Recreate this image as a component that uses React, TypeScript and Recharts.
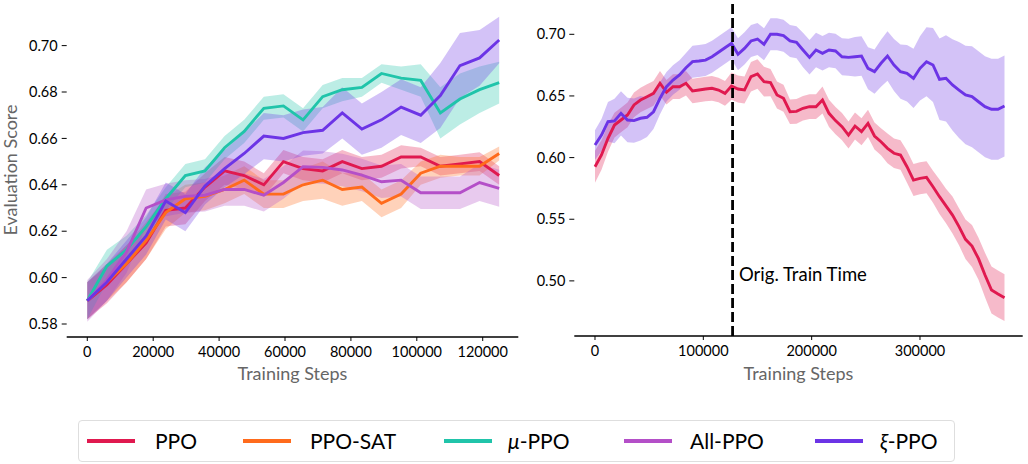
import React from "react";
import { Area, ComposedChart, Line, ReferenceLine, XAxis, YAxis } from "recharts";

const FONT = "Lato, 'Open Sans', sans-serif";

// ---- left panel: 0 .. 125k steps ----
const leftSteps = [
  0, 5952, 11905, 17857, 23810, 29762, 35714, 41667, 47619, 53571, 59524,
  65476, 71429, 77381, 83333, 89286, 95238, 101190, 107143, 113095, 119048, 125000,
];

const ppoLeft = [
  0.59, 0.597, 0.606, 0.615, 0.629, 0.63, 0.639, 0.646, 0.644, 0.64, 0.65,
  0.647, 0.646, 0.65, 0.647, 0.648, 0.652, 0.652, 0.648, 0.649, 0.65, 0.644,
];
const ppoLeftSpread = [
  0.008, 0.008, 0.008, 0.007, 0.007, 0.007, 0.006, 0.006, 0.006, 0.005, 0.005,
  0.005, 0.005, 0.005, 0.005, 0.005, 0.005, 0.004, 0.004, 0.004, 0.004, 0.004,
];

const satLeft = [
  0.59, 0.598, 0.606, 0.616, 0.628, 0.634, 0.635, 0.638, 0.642, 0.636, 0.636,
  0.64, 0.642, 0.638, 0.639, 0.632, 0.636, 0.645, 0.648, 0.648, 0.648, 0.6535,
];
const satLeftSpread = [
  0.008, 0.008, 0.008, 0.008, 0.007, 0.006, 0.006, 0.006, 0.006, 0.006, 0.006,
  0.007, 0.008, 0.007, 0.006, 0.006, 0.006, 0.005, 0.005, 0.004, 0.004, 0.003,
];

const muLeft = [
  0.59, 0.605, 0.612, 0.622, 0.634, 0.644, 0.646, 0.656, 0.663, 0.673, 0.674,
  0.668, 0.678, 0.681, 0.682, 0.688, 0.686, 0.685, 0.671, 0.677, 0.681, 0.684,
];
const muLeftSpread = [
  0.008, 0.007, 0.006, 0.005, 0.005, 0.005, 0.005, 0.005, 0.005, 0.005, 0.005,
  0.005, 0.005, 0.005, 0.004, 0.004, 0.005, 0.007, 0.011, 0.011, 0.01, 0.009,
];

const allLeft = [
  0.59, 0.599, 0.611, 0.63, 0.6335, 0.635, 0.6355, 0.638, 0.638, 0.6355, 0.641,
  0.6478, 0.6475, 0.6464, 0.6442, 0.6413, 0.642, 0.6366, 0.6366, 0.6366, 0.641, 0.6385,
];
const allLeftSpread = [
  0.009, 0.009, 0.009, 0.008, 0.007, 0.007, 0.007, 0.007, 0.007, 0.007, 0.007,
  0.007, 0.007, 0.007, 0.007, 0.007, 0.007, 0.007, 0.007, 0.007, 0.008, 0.008,
];

const xiLeft = [
  0.59, 0.598, 0.608, 0.618, 0.633, 0.628, 0.6395, 0.647, 0.6535, 0.661, 0.66,
  0.6625, 0.6635, 0.671, 0.664, 0.668, 0.6735, 0.67, 0.6785, 0.6914, 0.6947, 0.7024,
];
const xiLeftSpread = [
  0.008, 0.008, 0.008, 0.008, 0.008, 0.008, 0.008, 0.008, 0.009, 0.01, 0.01,
  0.01, 0.01, 0.011, 0.011, 0.012, 0.012, 0.012, 0.014, 0.014, 0.012, 0.01,
];

// ---- right panel: long run, 0 .. 378k steps ----
const rightSteps = [
  0, 6000, 12000, 18000, 24000, 30000, 36000, 42000, 48000, 54000,
  60000, 66000, 72000, 78000, 84000, 90000, 96000, 102000, 108000, 114000,
  120000, 126000, 132000, 138000, 144000, 150000, 156000, 162000, 168000, 174000,
  180000, 186000, 192000, 198000, 204000, 210000, 216000, 222000, 228000, 234000,
  240000, 246000, 252000, 258000, 264000, 270000, 276000, 282000, 288000, 294000,
  300000, 306000, 312000, 318000, 324000, 330000, 336000, 342000, 348000, 354000,
  360000, 366000, 372000, 378000,
];

const ppoRight = [
  0.5926, 0.6021, 0.6157, 0.6264, 0.6305, 0.6346, 0.6427, 0.6467, 0.6494, 0.6521,
  0.6603, 0.653, 0.6575, 0.6575, 0.6603, 0.654, 0.6548, 0.6556, 0.6562, 0.6548,
  0.6521, 0.658, 0.6556, 0.6548, 0.6656, 0.6678, 0.6616, 0.6608, 0.6508, 0.6481,
  0.6372, 0.6375, 0.64, 0.6413, 0.6413, 0.6467, 0.6359, 0.63, 0.6251, 0.6183,
  0.6256, 0.621, 0.6278, 0.6175, 0.6129, 0.6075, 0.6035, 0.6021, 0.5926, 0.5818,
  0.5832, 0.584, 0.5764, 0.5683, 0.5608, 0.5534, 0.544, 0.5337, 0.5283, 0.518,
  0.5048, 0.4926, 0.4894, 0.4864,
];
const ppoRightSpread = [
  0.013, 0.012, 0.011, 0.01, 0.01, 0.01, 0.01, 0.01, 0.01, 0.01,
  0.01, 0.01, 0.01, 0.01, 0.01, 0.01, 0.01, 0.01, 0.01, 0.01,
  0.01, 0.011, 0.011, 0.011, 0.012, 0.012, 0.012, 0.011, 0.011, 0.011,
  0.01, 0.01, 0.01, 0.01, 0.01, 0.011, 0.011, 0.011, 0.011, 0.011,
  0.011, 0.011, 0.011, 0.011, 0.011, 0.012, 0.012, 0.012, 0.013, 0.013,
  0.013, 0.013, 0.013, 0.014, 0.014, 0.015, 0.015, 0.016, 0.017, 0.017,
  0.018, 0.019, 0.019, 0.019,
];

const xiRight = [
  0.6102, 0.6183, 0.6291, 0.6297, 0.6359, 0.6305, 0.63, 0.6319, 0.6327, 0.6372,
  0.6481, 0.6575, 0.6629, 0.667, 0.6729, 0.6778, 0.6783, 0.6791, 0.6818, 0.6854,
  0.6891, 0.6927, 0.6838, 0.6886, 0.6946, 0.6962, 0.6919, 0.7, 0.7, 0.6989,
  0.6946, 0.6935, 0.6873, 0.6813, 0.6873, 0.6846, 0.6873, 0.6865, 0.6818, 0.6813,
  0.6818, 0.6824, 0.6724, 0.6697, 0.6765, 0.6824, 0.6751, 0.6697, 0.6684, 0.6643,
  0.6724, 0.6778, 0.6751, 0.6635, 0.6643, 0.6589, 0.6548, 0.6508, 0.6494, 0.6453,
  0.6413, 0.6392, 0.6392, 0.6418,
];
const xiRightSpread = [
  0.012, 0.013, 0.016, 0.018, 0.018, 0.018, 0.018, 0.018, 0.016, 0.014,
  0.013, 0.012, 0.012, 0.012, 0.012, 0.013, 0.013, 0.013, 0.013, 0.013,
  0.013, 0.013, 0.013, 0.013, 0.013, 0.013, 0.013, 0.013, 0.013, 0.013,
  0.013, 0.013, 0.014, 0.014, 0.014, 0.014, 0.014, 0.014, 0.015, 0.015,
  0.016, 0.016, 0.017, 0.018, 0.019, 0.02, 0.021, 0.022, 0.023, 0.024,
  0.026, 0.028, 0.03, 0.033, 0.035, 0.037, 0.039, 0.04, 0.041, 0.041,
  0.041, 0.041, 0.041, 0.041,
];

const leftXTicks = [0, 20000, 40000, 60000, 80000, 100000, 120000];
const leftYTicks = [0.58, 0.6, 0.62, 0.64, 0.66, 0.68, 0.7];
const rightXTicks = [0, 100000, 200000, 300000];
const rightYTicks = [0.5, 0.55, 0.6, 0.65, 0.7];
const origTrainStep = 127000;

const COLORS = {
  ppo: "#e0194f",
  sat: "#ff6b1c",
  mu: "#20c4aa",
  all: "#b44fc8",
  xi: "#6c34e6",
};

type Series = { key: string; color: string; mean: number[]; spread: number[] };

const leftSeries: Series[] = [
  { key: "ppo", color: COLORS.ppo, mean: ppoLeft, spread: ppoLeftSpread },
  { key: "sat", color: COLORS.sat, mean: satLeft, spread: satLeftSpread },
  { key: "mu", color: COLORS.mu, mean: muLeft, spread: muLeftSpread },
  { key: "all", color: COLORS.all, mean: allLeft, spread: allLeftSpread },
  { key: "xi", color: COLORS.xi, mean: xiLeft, spread: xiLeftSpread },
];

const rightSeries: Series[] = [
  { key: "ppo", color: COLORS.ppo, mean: ppoRight, spread: ppoRightSpread },
  { key: "xi", color: COLORS.xi, mean: xiRight, spread: xiRightSpread },
];

const buildRows = (steps: number[], series: Series[]) =>
  steps.map((step, i) => {
    const row: Record<string, any> = { step };
    series.forEach((s) => {
      row[s.key] = s.mean[i];
      row[s.key + "Band"] = [s.mean[i] - s.spread[i], s.mean[i] + s.spread[i]];
    });
    return row;
  });

const leftData = buildRows(leftSteps, leftSeries);
const rightData = buildRows(rightSteps, rightSeries);

const legendItems = [
  { label: <>PPO</>, color: COLORS.ppo, swatch: 87, text: 155 },
  { label: <>PPO-SAT</>, color: COLORS.sat, swatch: 243, text: 310 },
  { label: <><i>μ</i>-PPO</>, color: COLORS.mu, swatch: 444, text: 508 },
  { label: <>All-PPO</>, color: COLORS.all, swatch: 624, text: 690 },
  { label: <><i>ξ</i>-PPO</>, color: COLORS.xi, swatch: 815, text: 880 },
];

const renderSeries = (series: Series[]) =>
  series.flatMap((s) => [
    <Area
      key={s.key + "-band"}
      type="linear"
      dataKey={s.key + "Band"}
      stroke="none"
      fill={s.color}
      fillOpacity={0.3}
      isAnimationActive={false}
    />,
    <Line
      key={s.key + "-line"}
      type="linear"
      dataKey={s.key}
      stroke={s.color}
      strokeWidth={2.9}
      dot={false}
      isAnimationActive={false}
    />,
  ]);

const tickStyle = { fill: "#000", fontSize: 14.5 };
const fmt = (v: number) => v.toFixed(2);

const App = () => {
  return (
    <div
      style={{
        position: "absolute",
        left: 0,
        top: 0,
        width: 1028,
        height: 464,
        background: "#fff",
        fontFamily: FONT,
      }}
    >
      <div style={{ position: "absolute", left: 0, top: 0 }}>
        <ComposedChart
          width={530}
          height={400}
          data={leftData}
          margin={{ top: 2, right: 11.7, bottom: 13, left: 0 }}
        >
          <XAxis
            dataKey="step"
            type="number"
            domain={[-6250, 130800]}
            ticks={leftXTicks}
            allowDataOverflow
            height={50}
            axisLine={{ stroke: "#000", strokeWidth: 1.3 }}
            tickLine={{ stroke: "#000" }}
            tickSize={4}
            tickMargin={6}
            tick={tickStyle}
          />
          <YAxis
            type="number"
            domain={[0.5744, 0.7188]}
            ticks={leftYTicks}
            allowDataOverflow
            width={66.7}
            axisLine={false}
            tickLine={{ stroke: "#000" }}
            tickSize={5}
            tickMargin={4}
            tick={tickStyle}
            tickFormatter={fmt}
          />
          {renderSeries(leftSeries)}
        </ComposedChart>
      </div>

      <div style={{ position: "absolute", left: 530, top: 0 }}>
        <ComposedChart
          width={498}
          height={400}
          data={rightData}
          margin={{ top: 2, right: 5.3, bottom: 14, left: 0 }}
        >
          <XAxis
            dataKey="step"
            type="number"
            domain={[-19100, 394800]}
            ticks={rightXTicks}
            allowDataOverflow
            height={50}
            axisLine={{ stroke: "#000", strokeWidth: 1.3 }}
            tickLine={{ stroke: "#000" }}
            tickSize={4}
            tickMargin={6}
            tick={tickStyle}
          />
          <YAxis
            type="number"
            domain={[0.4553, 0.7262]}
            ticks={rightYTicks}
            allowDataOverflow
            width={44.3}
            axisLine={false}
            tickLine={{ stroke: "#000" }}
            tickSize={5}
            tickMargin={4}
            tick={tickStyle}
            tickFormatter={fmt}
          />
          {renderSeries(rightSeries)}
          <ReferenceLine
            x={origTrainStep}
            stroke="#000"
            strokeWidth={2.8}
            strokeDasharray="10 4"
          />
        </ComposedChart>
      </div>

      <svg
        width={1028}
        height={464}
        style={{ position: "absolute", left: 0, top: 0, pointerEvents: "none" }}
      >
        <text x={292.5} y={380} textAnchor="middle" fontSize={18} fill="#666">
          Training Steps
        </text>
        <text x={798.5} y={380} textAnchor="middle" fontSize={18} fill="#666">
          Training Steps
        </text>
        <text
          x={17}
          y={170}
          textAnchor="middle"
          fontSize={18}
          fill="#666"
          transform="rotate(-90 17 170)"
        >
          Evaluation Score
        </text>
        <text x={739} y={281} fontSize={18.5} fill="#000">
          Orig. Train Time
        </text>
      </svg>

      <div
        style={{
          position: "absolute",
          left: 78,
          top: 420,
          width: 877,
          height: 42,
          border: "1px solid #dedede",
          borderRadius: 4,
          boxSizing: "border-box",
        }}
      />
      {legendItems.map((item, i) => (
        <React.Fragment key={i}>
          <div
            style={{
              position: "absolute",
              left: item.swatch,
              top: 439,
              width: 48,
              height: 3.5,
              background: item.color,
            }}
          />
          <div
            style={{
              position: "absolute",
              left: item.text,
              top: 427,
              fontSize: 21,
              lineHeight: "28px",
              color: "#000",
            }}
          >
            {item.label}
          </div>
        </React.Fragment>
      ))}
    </div>
  );
};

export default App;
